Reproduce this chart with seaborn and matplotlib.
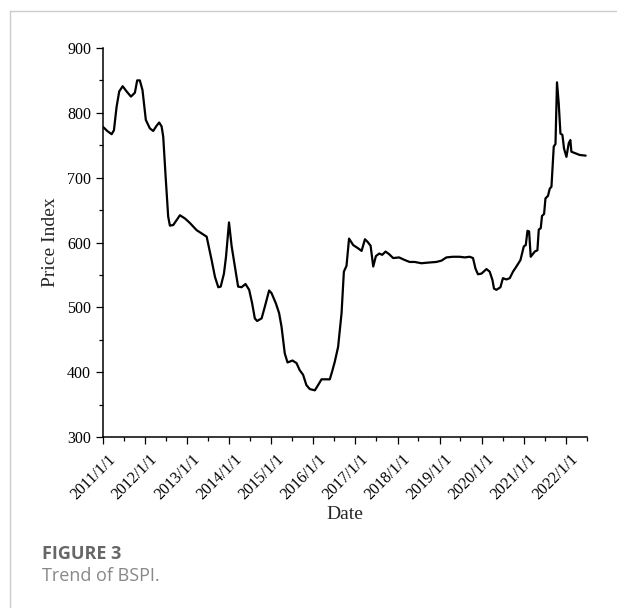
import numpy as np
import pandas as pd
import matplotlib
matplotlib.use("Agg")
import matplotlib.pyplot as plt
import matplotlib.dates as mdates
import matplotlib.transforms as mtransforms
from matplotlib.lines import Line2D
from matplotlib.ticker import MultipleLocator
import seaborn as sns

dates = [
    "2011-01-03", "2011-02-07", "2011-03-17", "2011-04-06", "2011-04-29", "2011-05-22",
    "2011-06-21", "2011-07-25", "2011-09-01", "2011-10-05", "2011-10-25", "2011-11-17",
    "2011-12-10", "2012-01-08", "2012-02-12", "2012-03-12", "2012-04-10", "2012-05-03",
    "2012-05-24", "2012-06-07", "2012-06-28", "2012-07-20", "2012-08-04", "2012-09-02",
    "2012-10-30", "2012-12-13", "2013-01-25", "2013-03-24", "2013-05-06", "2013-06-19",
    "2013-08-01", "2013-08-30", "2013-09-28", "2013-10-19", "2013-11-16", "2013-12-04",
    "2013-12-30", "2014-01-22", "2014-02-19", "2014-03-19", "2014-04-18", "2014-05-22",
    "2014-06-23", "2014-07-19", "2014-08-11", "2014-08-31", "2014-10-09", "2014-11-06",
    "2014-12-13", "2015-01-03", "2015-02-10", "2015-03-10", "2015-03-31", "2015-04-28",
    "2015-05-22", "2015-07-04", "2015-08-08", "2015-09-05", "2015-10-04", "2015-11-02",
    "2015-12-01", "2016-01-14", "2016-02-11", "2016-03-12", "2016-05-23", "2016-06-12",
    "2016-07-05", "2016-08-03", "2016-09-02", "2016-09-22", "2016-10-15", "2016-11-06",
    "2016-12-12", "2017-01-24", "2017-02-23", "2017-03-24", "2017-04-16", "2017-05-12",
    "2017-06-04", "2017-06-27", "2017-07-26", "2017-08-21", "2017-09-19", "2017-10-20",
    "2017-11-24", "2018-01-14", "2018-03-04", "2018-04-16", "2018-05-30", "2018-07-27",
    "2018-09-23", "2018-12-04", "2019-01-17", "2019-03-01", "2019-04-27", "2019-06-24",
    "2019-08-07", "2019-09-19", "2019-10-18", "2019-11-08", "2019-11-30", "2019-12-30",
    "2020-02-12", "2020-03-11", "2020-04-04", "2020-04-17", "2020-05-08", "2020-06-12",
    "2020-07-04", "2020-08-03", "2020-09-01", "2020-09-29", "2020-10-29", "2020-12-03",
    "2021-01-01", "2021-01-18", "2021-02-02", "2021-02-16", "2021-03-02", "2021-04-06",
    "2021-04-29", "2021-05-11", "2021-05-28", "2021-06-08", "2021-06-26", "2021-07-08",
    "2021-07-30", "2021-08-14", "2021-08-29", "2021-09-18", "2021-10-03", "2021-10-16",
    "2021-10-31", "2021-11-15", "2021-12-02", "2021-12-16", "2022-01-06", "2022-01-26",
    "2022-02-09", "2022-02-18", "2022-03-18", "2022-05-01", "2022-06-22",
]
bspi = [
    778, 772, 767, 773, 809, 833,
    841, 833, 825, 831, 850, 850,
    835, 789, 776, 772, 780, 785,
    779, 763, 701, 640, 626, 627,
    642, 637, 630, 619, 614, 609,
    573, 547, 531, 532, 552, 578,
    631, 594, 563, 532, 531, 536,
    527, 506, 483, 479, 483, 501,
    526, 522, 506, 491, 470, 429,
    415, 418, 414, 403, 396, 380,
    374, 372, 380, 389, 389, 401,
    416, 439, 491, 555, 564, 606,
    596, 591, 587, 605, 601, 595,
    563, 579, 583, 581, 586, 582,
    576, 577, 573, 570, 570, 568,
    569, 570, 572, 577, 578, 578,
    577, 578, 576, 560, 551, 552,
    559, 555, 542, 529, 527, 531,
    545, 543, 545, 555, 563, 573,
    594, 596, 618, 617, 578, 586,
    588, 620, 622, 641, 644, 668,
    672, 683, 686, 748, 752, 847,
    815, 768, 766, 745, 732, 753,
    758, 740, 738, 735, 734,
]

x_label = "Date"
y_label = "Price Index"
caption_title = "FIGURE 3"
caption_text = "Trend of BSPI."

df = pd.DataFrame({"Date": pd.to_datetime(dates), "BSPI": bspi})

sns.set_style("ticks")
plt.rcParams["font.family"] = ["Liberation Serif", "DejaVu Serif"]

fig = plt.figure(figsize=(6.17, 6.08), dpi=100)
ax = fig.add_axes([0.1669, 0.2812, 0.9509 - 0.1669, 0.9211 - 0.2812])

sns.lineplot(data=df, x="Date", y="BSPI", ax=ax, color="black", linewidth=1.6)

ax.set_xlim(pd.Timestamp("2011-01-01"), pd.Timestamp("2022-07-01"))
ax.set_ylim(300, 900)
ax.yaxis.set_major_locator(MultipleLocator(100))
ax.yaxis.set_minor_locator(MultipleLocator(50))
ax.xaxis.set_major_locator(mdates.YearLocator())
ax.xaxis.set_minor_locator(mdates.MonthLocator(bymonth=7))
ax.xaxis.set_major_formatter(mdates.DateFormatter("%Y/%-m/%-d"))

for s in ["top", "right"]:
    ax.spines[s].set_visible(False)
for s in ["left", "bottom"]:
    ax.spines[s].set_linewidth(1.1)
    ax.spines[s].set_color("black")

ax.tick_params(axis="both", which="major", direction="out", length=5, width=0.9,
               colors="black", labelsize=11.5)
ax.tick_params(axis="x", which="major", labelsize=11.5)
ax.tick_params(axis="both", which="minor", direction="out", length=3, width=0.9,
               colors="black")

offset = mtransforms.ScaledTranslation(10 / 100, -8 / 100, fig.dpi_scale_trans)
for lbl in ax.get_xticklabels():
    lbl.set_rotation(45)
    lbl.set_rotation_mode("anchor")
    lbl.set_ha("right")
    lbl.set_va("center")
    lbl.set_transform(lbl.get_transform() + offset)

ax.set_xlabel(x_label, fontsize=14, labelpad=2)
ax.set_ylabel(y_label, fontsize=14, labelpad=6)

fig.text(41.7 / 617, 1 - 559.3 / 608, caption_title, fontsize=13, color="#666666",
         fontweight="bold", family=["Open Sans", "DejaVu Sans"], ha="left", va="baseline")
fig.text(41.7 / 617, 1 - 581 / 608, caption_text, fontsize=13, color="#888888",
         family=["Open Sans", "DejaVu Sans"], ha="left", va="baseline")

fig.add_artist(Line2D([9.5 / 617, 9.5 / 617], [0, 1 - 11 / 608], transform=fig.transFigure,
                      color="#cccccc", linewidth=1.0))
fig.add_artist(Line2D([9.5 / 617, 1], [1 - 11 / 608, 1 - 11 / 608], transform=fig.transFigure,
                      color="#cccccc", linewidth=1.0))

fig.savefig("out.png", dpi=100)
